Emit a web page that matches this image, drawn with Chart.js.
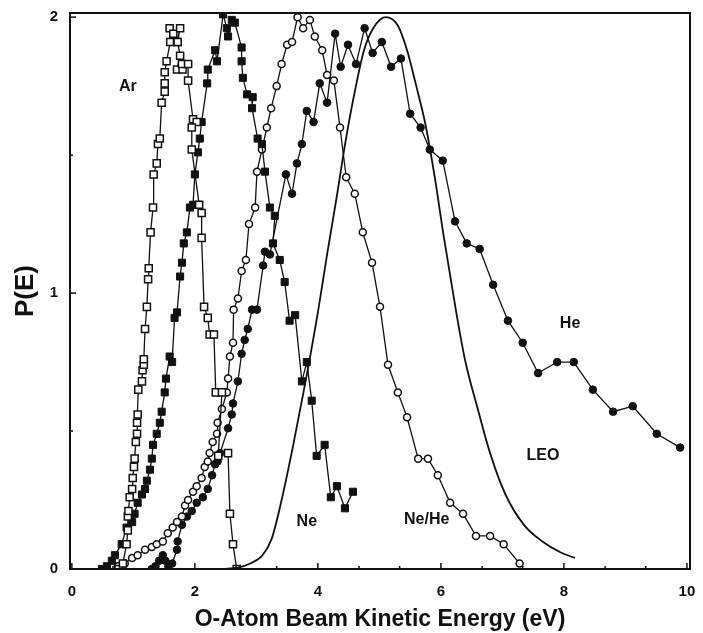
<!DOCTYPE html>
<html>
<head>
<meta charset="utf-8">
<script src="https://cdn.jsdelivr.net/npm/chart.js@4"></script>
<style>
  html, body { margin: 0; padding: 0; background: #fff; }
</style>
</head>
<body>
<canvas id="myChart" width="703" height="633"></canvas>
<script>
const FONT = "'Liberation Sans', Arial, Helvetica, sans-serif";
const INK = "#111";

// axis ticks
const xTicks = [0, 2, 4, 6, 8, 10];
const yTicks = [0, 1, 2];
const xMinor = [0.67, 1.33, 2.67, 3.33, 4.67, 5.33, 6.67, 7.33, 8.67, 9.33];
const yMinor = [0.5, 1.5];

// Ar (open squares)
const arX = [0.76, 0.83, 0.89, 0.91, 0.91, 0.92, 0.94, 0.98, 0.99, 1.01, 1.02, 1.04, 1.06, 1.06, 1.07, 1.08,
  1.14, 1.15, 1.17, 1.17, 1.19, 1.22, 1.24, 1.25, 1.28, 1.32, 1.33, 1.38, 1.40, 1.43, 1.46, 1.51, 1.51, 1.51,
  1.54, 1.60, 1.59, 1.65, 1.71, 1.76, 1.72, 1.76, 1.71, 1.80, 1.79, 1.89, 1.89, 1.97, 2.03, 1.95, 1.95,
  2.07, 2.11, 2.11, 2.15, 2.21, 2.24, 2.31, 2.34, 2.44, 2.38, 2.54, 2.57, 2.62, 2.68];
const arY = [0, 0.02, 0.09, 0.14, 0.19, 0.21, 0.26, 0.29, 0.33, 0.37, 0.40, 0.46, 0.49, 0.53, 0.56, 0.65,
  0.68, 0.72, 0.74, 0.76, 0.87, 0.95, 1.05, 1.09, 1.22, 1.31, 1.43, 1.47, 1.54, 1.56, 1.69, 1.73, 1.76, 1.80,
  1.84, 1.91, 1.96, 1.94, 1.91, 1.96, 1.91, 1.86, 1.81, 1.81, 1.83, 1.83, 1.77, 1.63, 1.62, 1.60, 1.52,
  1.32, 1.29, 1.20, 0.95, 0.91, 0.85, 0.85, 0.64, 0.64, 0.41, 0.42, 0.20, 0.09, 0];

// Ne (filled squares)
const neX = [0.49, 0.57, 0.65, 0.70, 0.81, 0.89, 0.98, 1.02, 1.07, 1.14, 1.19, 1.22, 1.27, 1.30, 1.32, 1.38,
  1.43, 1.46, 1.51, 1.53, 1.59, 1.63, 1.67, 1.71, 1.76, 1.79, 1.82, 1.87, 1.92, 1.97, 2.00, 2.05, 2.08, 2.11,
  2.20, 2.21, 2.33, 2.36, 2.46, 2.52, 2.54, 2.60, 2.65, 2.76, 2.76, 2.78, 2.85, 2.94, 2.93, 3.02, 3.09, 3.14,
  3.22, 3.30, 3.27, 3.38, 3.46, 3.54, 3.63, 3.74, 3.82, 3.90, 3.98, 4.11, 4.21, 4.31, 4.44, 4.57];
const neY = [0, 0.01, 0.03, 0.05, 0.09, 0.15, 0.17, 0.20, 0.24, 0.27, 0.29, 0.32, 0.36, 0.40, 0.45, 0.49,
  0.53, 0.57, 0.64, 0.69, 0.77, 0.75, 0.91, 0.93, 1.06, 1.11, 1.18, 1.22, 1.31, 1.32, 1.43, 1.51, 1.56, 1.62,
  1.76, 1.81, 1.88, 1.84, 2.01, 1.96, 1.93, 1.99, 1.98, 1.89, 1.84, 1.78, 1.72, 1.71, 1.67, 1.56, 1.54, 1.44,
  1.31, 1.28, 1.18, 1.12, 1.04, 0.90, 0.92, 0.68, 0.75, 0.61, 0.41, 0.45, 0.26, 0.30, 0.22, 0.28];

// Ne/He (open circles)
const nhX = [0.75, 0.86, 0.98, 1.07, 1.19, 1.30, 1.38, 1.48, 1.56, 1.64, 1.71, 1.79, 1.84, 1.89, 1.97, 2.03,
  2.11, 2.16, 2.21, 2.24, 2.29, 2.36, 2.37, 2.44, 2.52, 2.54, 2.57, 2.62, 2.63, 2.70, 2.76, 2.83, 2.88, 2.98,
  3.01, 3.09, 3.17, 3.24, 3.33, 3.41, 3.50, 3.58, 3.67, 3.76, 3.87, 3.95, 4.07, 4.15, 4.26, 4.36, 4.46, 4.60,
  4.73, 4.88, 5.01, 5.14, 5.30, 5.45, 5.63, 5.79, 5.95, 6.15, 6.36, 6.57, 6.80, 7.02, 7.28];
const nhY = [0.01, 0.02, 0.04, 0.05, 0.07, 0.08, 0.09, 0.10, 0.13, 0.15, 0.17, 0.19, 0.23, 0.25, 0.28, 0.30,
  0.33, 0.37, 0.39, 0.42, 0.46, 0.49, 0.53, 0.58, 0.64, 0.69, 0.77, 0.82, 0.94, 0.98, 1.08, 1.12, 1.25, 1.31,
  1.44, 1.52, 1.60, 1.67, 1.75, 1.83, 1.90, 1.91, 2.00, 1.96, 1.99, 1.93, 1.88, 1.79, 1.77, 1.60, 1.42, 1.36,
  1.22, 1.11, 0.95, 0.74, 0.64, 0.55, 0.40, 0.40, 0.34, 0.24, 0.20, 0.12, 0.12, 0.09, 0.02];

// He (filled circles)
const heX = [1.30, 1.36, 1.42, 1.48, 1.52, 1.57, 1.63, 1.71, 1.72, 1.79, 1.87, 1.95, 2.03, 2.13, 2.21, 2.28,
  2.33, 2.37, 2.41, 2.54, 2.60, 2.62, 2.70, 2.76, 2.81, 2.86, 2.93, 3.01, 3.11, 3.14, 3.22, 3.48, 3.58, 3.66,
  3.74, 3.82, 3.93, 4.03, 4.15, 4.28, 4.37, 4.49, 4.62, 4.76, 4.89, 5.04, 5.19, 5.35, 5.50, 5.67, 5.82, 6.03,
  6.23, 6.42, 6.63, 6.85, 7.09, 7.33, 7.58, 7.89, 8.16, 8.47, 8.80, 9.12, 9.51, 9.89];
const heY = [0, 0.01, 0.03, 0.05, 0.03, 0.01, 0.02, 0.07, 0.10, 0.16, 0.19, 0.21, 0.24, 0.26, 0.29, 0.34,
  0.38, 0.39, 0.42, 0.51, 0.56, 0.60, 0.68, 0.78, 0.83, 0.87, 0.94, 0.94, 1.10, 1.15, 1.14, 1.43, 1.36, 1.47,
  1.54, 1.66, 1.62, 1.76, 1.69, 1.94, 1.82, 1.90, 1.83, 1.96, 1.87, 1.91, 1.82, 1.85, 1.65, 1.60, 1.52, 1.48,
  1.26, 1.18, 1.16, 1.03, 0.90, 0.82, 0.71, 0.75, 0.75, 0.65, 0.57, 0.59, 0.49, 0.44];

// LEO (smooth curve)
const leoX = [2.45, 2.7, 2.9, 3.1, 3.25, 3.4, 3.6, 3.8, 4.0, 4.15, 4.3, 4.45, 4.6, 4.75, 4.9, 5.1, 5.3, 5.45,
  5.6, 5.75, 5.9, 6.05, 6.25, 6.4, 6.6, 6.8, 7.05, 7.35, 7.65, 7.95, 8.18];
const leoY = [0, 0.005, 0.02, 0.05, 0.11, 0.24, 0.45, 0.68, 0.93, 1.14, 1.34, 1.55, 1.73, 1.88, 1.96, 2.0, 1.97,
  1.88, 1.75, 1.61, 1.42, 1.20, 0.93, 0.75, 0.58, 0.42, 0.27, 0.16, 0.10, 0.06, 0.04];

// in-plot labels
const labelText = ["Ar", "Ne", "Ne/He", "He", "LEO"];
const labelX = [0.91, 3.82, 5.77, 8.10, 7.66];
const labelY = [1.75, 0.17, 0.18, 0.89, 0.41];

function pts(xs, ys) {
  return xs.map((x, i) => ({ x: x, y: ys[i] }));
}

// frame, inward ticks and curve labels
const decor = {
  id: "decor",
  afterDraw(chart) {
    const { ctx, chartArea: a, scales } = chart;
    const x = scales.x, y = scales.y;
    ctx.save();
    ctx.strokeStyle = INK;
    ctx.lineWidth = 2;
    ctx.strokeRect(a.left, a.top, a.right - a.left, a.bottom - a.top);
    ctx.lineWidth = 1.5;
    const seg = (x1, y1, x2, y2) => {
      ctx.beginPath(); ctx.moveTo(x1, y1); ctx.lineTo(x2, y2); ctx.stroke();
    };
    xTicks.forEach(v => { const p = x.getPixelForValue(v); seg(p, a.bottom, p, a.bottom - 6); });
    xMinor.forEach(v => { const p = x.getPixelForValue(v); seg(p, a.bottom, p, a.bottom - 3); });
    yTicks.forEach(v => { const p = y.getPixelForValue(v); seg(a.left, p, a.left + 6, p); });
    yMinor.forEach(v => { const p = y.getPixelForValue(v); seg(a.left, p, a.left + 3, p); });
    ctx.fillStyle = INK;
    ctx.font = "bold 16px " + FONT;
    ctx.textAlign = "center";
    ctx.textBaseline = "middle";
    labelText.forEach((t, i) => {
      ctx.fillText(t, x.getPixelForValue(labelX[i]), y.getPixelForValue(labelY[i]));
    });
    ctx.restore();
  }
};

const openMark = { pointBackgroundColor: "#fff", pointBorderColor: INK, pointBorderWidth: 1.5 };
const fullMark = { pointBackgroundColor: INK, pointBorderColor: INK, pointBorderWidth: 1 };

const myChart = new Chart(document.getElementById("myChart"), {
  type: "scatter",
  data: {
    datasets: [
      { label: "LEO", data: pts(leoX, leoY), showLine: true, borderColor: INK, borderWidth: 1.8,
        pointRadius: 0, cubicInterpolationMode: "monotone" },
      { label: "Ar", data: pts(arX, arY), showLine: true, borderColor: INK, borderWidth: 1.3,
        pointStyle: "rect", pointRadius: 5, ...openMark },
      { label: "Ne", data: pts(neX, neY), showLine: true, borderColor: INK, borderWidth: 1.3,
        pointStyle: "rect", pointRadius: 5, ...fullMark },
      { label: "Ne/He", data: pts(nhX, nhY), showLine: true, borderColor: INK, borderWidth: 1.3,
        pointStyle: "circle", pointRadius: 3.5, ...openMark },
      { label: "He", data: pts(heX, heY), showLine: true, borderColor: INK, borderWidth: 1.3,
        pointStyle: "circle", pointRadius: 3.8, ...fullMark }
    ]
  },
  options: {
    responsive: false,
    animation: false,
    devicePixelRatio: 1,
    layout: { padding: { top: 13, right: 13, left: 0, bottom: 0 } },
    plugins: { legend: { display: false }, tooltip: { enabled: false } },
    scales: {
      x: {
        type: "linear",
        min: -0.03,
        max: 10.05,
        afterBuildTicks: s => { s.ticks = xTicks.map(v => ({ value: v })); },
        afterFit: s => { s.height = 64; s.paddingLeft = 0; s.paddingRight = 0; },
        grid: { display: false, drawTicks: false },
        border: { display: false },
        ticks: { color: INK, padding: 14, maxRotation: 0, autoSkip: false,
          font: { family: FONT, size: 15, weight: "bold" } },
        title: { display: true, text: "O-Atom Beam Kinetic Energy (eV)", color: INK,
          padding: { top: 0, bottom: 0 }, font: { family: FONT, size: 23, weight: "bold" } }
      },
      y: {
        type: "linear",
        min: 0,
        max: 2.015,
        afterBuildTicks: s => { s.ticks = yTicks.map(v => ({ value: v })); },
        afterFit: s => { s.width = 70; s.paddingTop = 0; s.paddingBottom = 0; },
        grid: { display: false, drawTicks: false },
        border: { display: false },
        ticks: { color: INK, padding: 12, font: { family: FONT, size: 15, weight: "bold" } },
        title: { display: true, text: "P(E)", color: INK,
          padding: { top: 10, bottom: 0 }, font: { family: FONT, size: 26, weight: "bold" } }
      }
    }
  },
  plugins: [decor]
});
</script>
</body>
</html>
